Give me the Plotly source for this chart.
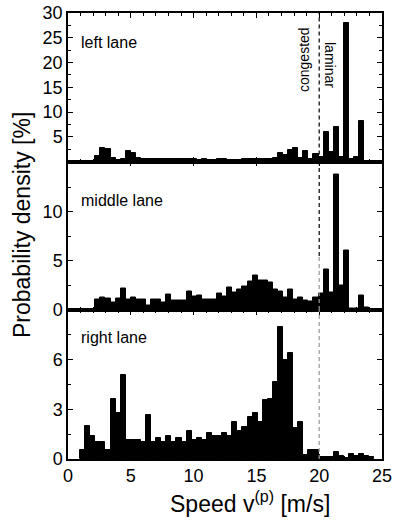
import numpy as np
import plotly.graph_objects as go

# ---- data (probability density in %, histogram bins of ~0.404 m/s starting at 0.96 m/s) ----
bin_start = 0.96
bin_width = 0.404

left_lane = [0, 0, 0, 1.1, 2.8, 2.5, 0.8, 0.35, 0.55, 2.2,
             1.75, 0.8, 0.6, 0.45, 0.5, 0.5, 0.55, 0.55, 0.5, 0.55,
             0.45, 0.5, 0.6, 0.4, 0.45, 0.3, 0.3, 0.45, 0.5, 0.3,
             0.35, 0.4, 0.5, 0.55, 0.5, 0.6, 0.55, 0.6, 0.7, 1.8,
             1.4, 2.4, 2.8, 0.7, 2.2, 0.5, 1.5, 1.0, 5.9, 1.9,
             7.0, 1.0, 28.0, 0.6, 0.85, 8.1, 0, 0]

middle_lane = [0, 0, 0, 1.05, 1.3, 1.2, 0.78, 1.2, 2.2, 1.1,
               1.25, 1.1, 1.1, 0.5, 1.05, 1.1, 0.78, 1.6, 0.95, 1.0,
               1.0, 1.93, 1.4, 1.45, 1.05, 1.05, 1.1, 1.7, 1.4, 2.33,
               1.8, 2.1, 2.4, 2.9, 3.5, 3.0, 3.0, 2.8, 2.1, 1.86,
               1.28, 2.06, 1.05, 1.25, 1.0, 0.9, 1.3, 1.65, 4.15, 1.8,
               13.75, 2.45, 6.1, 0.12, 0.15, 1.52, 0.3, 0]

right_lane = [0.55, 2.0, 1.4, 1.0, 1.0, 0.55, 3.62, 2.8, 5.05, 1.12,
              1.12, 1.12, 1.0, 2.66, 1.0, 1.26, 1.0, 1.4, 1.0, 1.26,
              1.0, 1.7, 1.12, 1.26, 1.12, 1.55, 1.4, 1.4, 1.55, 1.4,
              2.25, 1.7, 1.96, 2.56, 2.8, 2.25, 3.54, 3.64, 4.64, 8.0,
              6.0, 6.4, 1.85, 2.25, 0.25, 0.55, 0.55, 0.15, 0.15, 0.1,
              0.4, 0.2, 0.05, 0.3, 0.2, 0.3, 0.2, 0.15]

speed_centers = bin_start + bin_width * (np.arange(len(right_lane)) + 0.5)

lane_names = ["left lane", "middle lane", "right lane"]
x_ticks = [0, 5, 10, 15, 20, 25]
y_ticks_left = [5, 10, 15, 20, 25, 30]
y_ticks_middle = [0, 5, 10]
y_ticks_right = [0, 3, 6]
boundary_speed = 20

FONT = "Liberation Sans, Arial, Helvetica, sans-serif"

fig = go.Figure()
for data, xa, ya in [(right_lane, "x", "y"), (middle_lane, "x2", "y2"), (left_lane, "x3", "y3")]:
    fig.add_trace(go.Bar(
        x=speed_centers, y=data, width=bin_width, xaxis=xa, yaxis=ya,
        marker=dict(color="black", line=dict(color="black", width=1.0)),
        showlegend=False,
    ))

common_x = dict(range=[0, 25], showline=True, linecolor="black", linewidth=1.5,
                mirror="ticks", ticks="inside", ticklen=5, tickwidth=1.2, tickcolor="black",
                tickvals=x_ticks, showgrid=False, zeroline=False, automargin=False,
                minor=dict(dtick=1, ticks="inside", ticklen=3, tickwidth=1, tickcolor="black"),
                tickfont=dict(family=FONT, size=18, color="black"))
common_y = dict(showline=True, linecolor="black", linewidth=1.5, mirror="ticks",
                ticks="inside", ticklen=5, tickwidth=1.2, tickcolor="black",
                showgrid=False, zeroline=False, automargin=False,
                tickfont=dict(family=FONT, size=18, color="black"))

d3 = (459 - 310) / 446
d2 = (459 - 161.5) / 446

fig.update_layout(
    template="none",
    width=394, height=520,
    margin=dict(l=68, r=12, t=13, b=61, autoexpand=False),
    paper_bgcolor="white", plot_bgcolor="white",
    bargap=0,
    xaxis=dict(**common_x, anchor="y", domain=[0, 1]),
    xaxis2=dict(**common_x, anchor="y2", matches="x", showticklabels=False),
    xaxis3=dict(**common_x, anchor="y3", matches="x", showticklabels=False),
    yaxis=dict(**common_y, domain=[0, d3], range=[0, 9], tickvals=y_ticks_right,
               minor=dict(dtick=1.5, ticks="inside", ticklen=3, tickwidth=1, tickcolor="black")),
    yaxis2=dict(**common_y, domain=[d3, d2], range=[0, 15.1], tickvals=y_ticks_middle,
                minor=dict(dtick=2.5, ticks="inside", ticklen=3, tickwidth=1, tickcolor="black")),
    yaxis3=dict(**common_y, domain=[d2, 1], range=[0, 30], tickvals=y_ticks_left,
                minor=dict(dtick=2.5, ticks="inside", ticklen=3, tickwidth=1, tickcolor="black")),
    font=dict(family=FONT, color="black"),
)

# dashed boundary line between congested and laminar traffic
fig.add_shape(type="line", xref="x3", yref="y3", x0=boundary_speed, x1=boundary_speed, y0=0, y1=30,
              line=dict(color="black", width=1.2, dash="4px,3px"), layer="above")
fig.add_shape(type="line", xref="x2", yref="y2", x0=boundary_speed, x1=boundary_speed, y0=5.5, y1=15.1,
              line=dict(color="black", width=1.2, dash="4px,3px"), layer="above")
fig.add_shape(type="line", xref="x2", yref="y2", x0=boundary_speed, x1=boundary_speed, y0=0, y1=5.5,
              line=dict(color="#999999", width=1.2, dash="4px,3px"), layer="above")
fig.add_shape(type="line", xref="x", yref="y", x0=boundary_speed, x1=boundary_speed, y0=0, y1=9,
              line=dict(color="#999999", width=1.2, dash="4px,3px"), layer="above")

# lane labels
for name, ypx in zip(lane_names, [43, 200, 337]):
    fig.add_annotation(text=name, xref="paper", yref="paper", x=(79 - 68) / 314,
                       y=(459 - ypx) / 446, xanchor="left", yanchor="middle", showarrow=False,
                       font=dict(family=FONT, size=16, color="black"))

fig.add_annotation(text="congested", xref="x3", yref="paper", x=(304 - 68) / 12.56,
                   y=(459 - 60) / 446, textangle=-90, showarrow=False,
                   xanchor="center", yanchor="middle",
                   font=dict(family=FONT, size=14, color="black"))
fig.add_annotation(text="laminar", xref="x3", yref="paper", x=(330 - 68) / 12.56,
                   y=(459 - 65) / 446, textangle=90, showarrow=False,
                   xanchor="center", yanchor="middle",
                   font=dict(family=FONT, size=14, color="black"))

# axis titles
fig.add_annotation(text="Speed v<sup>(p)</sup> [m/s]", xref="paper", yref="paper",
                   x=(250 - 68) / 314, y=(459 - 502) / 446, xanchor="center", yanchor="middle",
                   showarrow=False, font=dict(family=FONT, size=23, color="black"))
fig.add_annotation(text="Probability density [%]", xref="paper", yref="paper",
                   x=(22 - 68) / 314, y=(459 - 225) / 446, xanchor="center", yanchor="middle",
                   textangle=-90, showarrow=False, font=dict(family=FONT, size=23, color="black"))

fig.write_html("out.html")
